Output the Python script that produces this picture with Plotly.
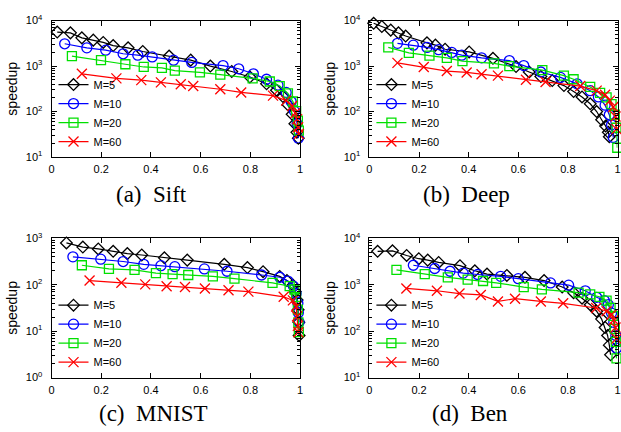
import plotly.graph_objects as go

# ---------------- data (recall vs speedup) ----------------
# (a) Sift
sift_m5_x = [0.023, 0.076, 0.122, 0.168, 0.208, 0.248, 0.308, 0.367, 0.473, 0.560, 0.639, 0.725, 0.798, 0.865, 0.905, 0.931, 0.951, 0.968, 0.979, 0.987, 0.993]
sift_m5_y = [5600, 5370, 4170, 3715, 3311, 2818, 2512, 2089, 1660, 1349, 1000, 759, 575, 407, 295, 214, 141, 87, 54, 35, 26]
sift_m10_x = [0.053, 0.142, 0.218, 0.288, 0.347, 0.405, 0.491, 0.564, 0.690, 0.753, 0.812, 0.865, 0.911, 0.944, 0.964, 0.977, 0.988, 0.993]
sift_m10_y = [3090, 2512, 2239, 1862, 1738, 1585, 1349, 1202, 1023, 871, 676, 513, 380, 263, 166, 102, 54, 26]
sift_m20_x = [0.082, 0.199, 0.297, 0.371, 0.444, 0.496, 0.597, 0.679, 0.809, 0.878, 0.918, 0.951, 0.971, 0.984, 0.991, 0.995]
sift_m20_y = [1660, 1349, 1096, 955, 912, 794, 724, 646, 537, 457, 363, 251, 166, 102, 63, 38]
sift_m60_x = [0.122, 0.261, 0.361, 0.440, 0.520, 0.570, 0.679, 0.763, 0.891, 0.944, 0.968, 0.981, 0.988, 0.992, 0.995]
sift_m60_y = [676, 537, 490, 437, 398, 363, 309, 263, 224, 174, 132, 93, 68, 45, 32]

# (b) Deep
deep_m5_x = [0.017, 0.050, 0.086, 0.117, 0.146, 0.232, 0.266, 0.305, 0.402, 0.498, 0.591, 0.644, 0.691, 0.737, 0.784, 0.823, 0.857, 0.890, 0.916, 0.936, 0.952, 0.963, 0.967]
deep_m5_y = [8710, 7413, 6166, 5370, 4571, 3236, 2884, 2344, 2042, 1479, 977, 741, 589, 479, 372, 275, 209, 148, 100, 66, 48, 35, 28]
deep_m10_x = [0.113, 0.177, 0.232, 0.279, 0.332, 0.372, 0.452, 0.564, 0.622, 0.691, 0.770, 0.837, 0.890, 0.923, 0.950, 0.967, 0.976, 0.983]
deep_m10_y = [3162, 2884, 2570, 2291, 1995, 1738, 1514, 1318, 1023, 741, 562, 407, 288, 209, 138, 85, 51, 27]
deep_m20_x = [0.076, 0.159, 0.242, 0.312, 0.375, 0.502, 0.564, 0.697, 0.784, 0.823, 0.890, 0.930, 0.956, 0.976, 0.989, 0.996, 0.999]
deep_m20_y = [2570, 1950, 1698, 1514, 1288, 1148, 1000, 813, 617, 513, 347, 257, 204, 145, 85, 44, 16]
deep_m60_x = [0.113, 0.219, 0.312, 0.392, 0.452, 0.518, 0.631, 0.710, 0.850, 0.916, 0.950, 0.969, 0.983, 0.992, 0.996]
deep_m60_y = [1175, 955, 776, 724, 661, 617, 501, 447, 363, 288, 234, 174, 126, 78, 41]

# (c) MNIST
mnist_m5_x = [0.060, 0.126, 0.188, 0.248, 0.305, 0.363, 0.454, 0.546, 0.695, 0.788, 0.851, 0.918, 0.947, 0.971, 0.981, 0.988, 0.992, 0.995, 0.996]
mnist_m5_y = [794, 646, 589, 525, 468, 437, 380, 339, 275, 234, 191, 151, 123, 98, 71, 47, 29, 15.5, 8.1]
mnist_m10_x = [0.086, 0.198, 0.288, 0.371, 0.440, 0.496, 0.615, 0.706, 0.845, 0.918, 0.951, 0.973, 0.984, 0.991, 0.993, 0.996]
mnist_m10_y = [398, 355, 316, 275, 257, 245, 219, 195, 162, 145, 120, 93, 65, 40, 25, 15.5]
mnist_m20_x = [0.122, 0.231, 0.334, 0.420, 0.487, 0.550, 0.649, 0.736, 0.889, 0.958, 0.977, 0.984, 0.991, 0.993, 0.995]
mnist_m20_y = [263, 219, 209, 178, 170, 162, 151, 135, 110, 93, 79, 55, 29, 15.5, 9.5]
mnist_m60_x = [0.153, 0.281, 0.377, 0.463, 0.537, 0.617, 0.712, 0.792, 0.934, 0.971, 0.984, 0.988, 0.991, 0.993]
mnist_m60_y = [123, 110, 102, 93, 89, 83, 76, 71, 55, 46, 34, 21, 13, 9.5]

# (d) Ben
ben_m5_x = [0.033, 0.093, 0.150, 0.199, 0.235, 0.279, 0.365, 0.425, 0.474, 0.554, 0.627, 0.704, 0.777, 0.823, 0.857, 0.890, 0.916, 0.936, 0.950, 0.960, 0.967, 0.972]
ben_m5_y = [5248, 5370, 4266, 3631, 3388, 3020, 2570, 1995, 1698, 1585, 1445, 1230, 891, 676, 513, 372, 269, 182, 120, 81, 50, 31]
ben_m10_x = [0.177, 0.263, 0.325, 0.378, 0.436, 0.529, 0.600, 0.730, 0.803, 0.870, 0.916, 0.947, 0.963, 0.976, 0.985, 0.993, 0.996]
ben_m10_y = [2630, 2239, 1950, 1778, 1660, 1514, 1349, 1096, 977, 741, 537, 457, 372, 245, 155, 81, 43]
ben_m20_x = [0.109, 0.223, 0.316, 0.396, 0.458, 0.511, 0.622, 0.695, 0.843, 0.890, 0.927, 0.956, 0.972, 0.983, 0.989, 0.993, 0.996]
ben_m20_y = [2089, 1698, 1445, 1288, 1202, 1096, 891, 794, 676, 617, 550, 457, 316, 214, 112, 59, 26]
ben_m60_x = [0.149, 0.272, 0.363, 0.449, 0.518, 0.587, 0.691, 0.781, 0.914, 0.956, 0.976, 0.985, 0.992, 0.996]
ben_m60_y = [832, 741, 646, 603, 437, 501, 437, 398, 316, 269, 229, 174, 120, 69]

series_names = ["M=5", "M=10", "M=20", "M=60"]
captions = ["(a)\u2002Sift", "(b)\u2002Deep", "(c)\u2002MNIST", "(d)\u2002Ben"]
x_ticks = [0, 0.2, 0.4, 0.6, 0.8, 1]
x_ticktext = ["0", "0.2", "0.4", "0.6", "0.8", "1"]

panels = [
    [(sift_m5_x, sift_m5_y), (sift_m10_x, sift_m10_y), (sift_m20_x, sift_m20_y), (sift_m60_x, sift_m60_y)],
    [(deep_m5_x, deep_m5_y), (deep_m10_x, deep_m10_y), (deep_m20_x, deep_m20_y), (deep_m60_x, deep_m60_y)],
    [(mnist_m5_x, mnist_m5_y), (mnist_m10_x, mnist_m10_y), (mnist_m20_x, mnist_m20_y), (mnist_m60_x, mnist_m60_y)],
    [(ben_m5_x, ben_m5_y), (ben_m10_x, ben_m10_y), (ben_m20_x, ben_m20_y), (ben_m60_x, ben_m60_y)],
]
y_decades = [(1, 4), (1, 4), (0, 3), (1, 4)]

# ---------------- styles ----------------
W, H = 621, 432
colors = ["#000000", "#0000ff", "#00e000", "#ff0000"]
symbols = ["diamond-open", "circle-open", "square-open", "x-thin-open"]
msizes = [9, 10, 9, 10]
# plot frames in pixels: (left, right, top, bottom)
frames = [(49, 300, 13, 154), (370, 620.5, 13, 154), (49, 300, 238, 382), (370, 620.5, 238, 382)]
cap_pos = [(150, 193), (468, 193), (152, 419), (472, 419)]

TICKFONT = dict(family="Liberation Sans, Arial, sans-serif", size=11, color="black")

fig = go.Figure()
layout = dict(
    width=W, height=H, margin=dict(l=0, r=0, t=0, b=0),
    paper_bgcolor="white", plot_bgcolor="white", showlegend=True,
    annotations=[],
)

for p, series in enumerate(panels):
    n = p + 1
    xa = "x" if n == 1 else f"x{n}"
    ya = "y" if n == 1 else f"y{n}"
    lg = "legend" if n == 1 else f"legend{n}"
    for k, (xs, ys) in enumerate(series):
        fig.add_trace(go.Scatter(
            x=xs, y=ys, mode="lines+markers", name=series_names[k],
            xaxis=xa, yaxis=ya, legend=lg, cliponaxis=False,
            line=dict(color=colors[k], width=1.2),
            marker=dict(symbol=symbols[k], size=msizes[k], color=colors[k],
                        line=dict(color=colors[k], width=1.3)),
        ))
    l, r, t, b = frames[p]
    d0, d1 = y_decades[p]
    tv = [10 ** e for e in range(d0, d1 + 1)]
    tt = [f"10<sup>{e}</sup>" for e in range(d0, d1 + 1)]
    minor_vals = [m * 10 ** e for e in range(d0, d1) for m in range(2, 10)]
    xkey = "xaxis" if n == 1 else f"xaxis{n}"
    ykey = "yaxis" if n == 1 else f"yaxis{n}"
    layout[xkey] = dict(
        domain=[l / W, r / W], anchor=ya, range=[0, 1],
        tickmode="array", tickvals=x_ticks, ticktext=x_ticktext,
        ticks="inside", ticklen=5, tickcolor="black", mirror="ticks",
        showline=True, linecolor="black", linewidth=1, showgrid=False, zeroline=False,
        tickfont=TICKFONT, ticklabelstandoff=2,
    )
    layout[ykey] = dict(
        domain=[1 - b / H, 1 - t / H], anchor=xa, type="log", range=[d0, d1],
        tickmode="array", tickvals=tv, ticktext=tt,
        ticks="inside", ticklen=5, tickcolor="black", mirror="ticks",
        minor=dict(ticks="inside", ticklen=3, tickcolor="black", tickmode="array",
                   tickvals=minor_vals, showgrid=False),
        showline=True, linecolor="black", linewidth=1, showgrid=False, zeroline=False,
        tickfont=TICKFONT, ticklabelstandoff=6,
        title=dict(text="speedup", font=dict(family="Liberation Sans, Arial, sans-serif", size=14, color="black"), standoff=4),
    )
    layout[lg] = dict(
        x=(l + 2) / W, y=1 - (b - 1) / H, xanchor="left", yanchor="bottom",
        xref="paper", yref="paper",
        bgcolor="rgba(0,0,0,0)", borderwidth=0,
        font=dict(family="Liberation Sans, Arial, sans-serif", size=11, color="black"),
        itemwidth=30, tracegroupgap=0,
    )
    cx, cy = cap_pos[p]
    layout["annotations"].append(dict(
        text=captions[p], x=cx / W, y=1 - cy / H, xref="paper", yref="paper",
        xanchor="center", yanchor="middle", showarrow=False,
        font=dict(family="Liberation Serif, Times New Roman, serif", size=23, color="black"),
    ))

fig.update_layout(**layout)
fig.write_html("out.html", config={"displayModeBar": False},
               post_script="document.body.style.margin='0';document.body.style.padding='0';")
